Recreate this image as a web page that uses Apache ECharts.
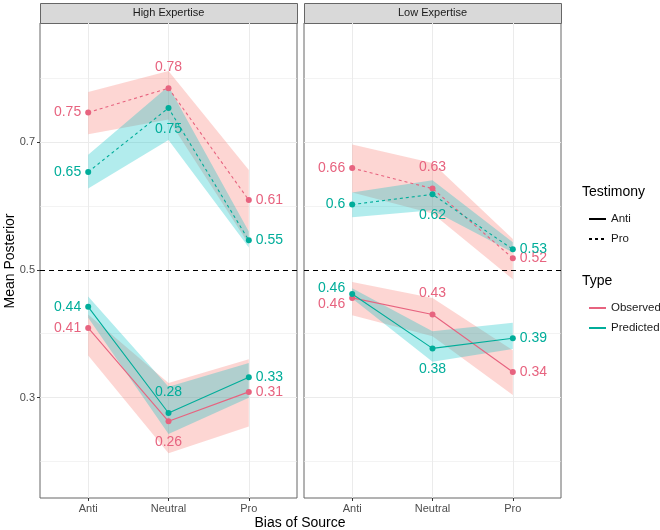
<!DOCTYPE html>
<html>
<head>
<meta charset="utf-8">
<script src="https://cdn.jsdelivr.net/npm/echarts@6/dist/echarts.min.js"></script>
<style>
  html, body { margin: 0; padding: 0; background: #fff; }
  #chart { width: 660px; height: 530px; }
</style>
</head>
<body>
<div id="chart"></div>
<script>
// categories / ticks
var biasLevels = ['Anti', 'Neutral', 'Pro'];
var panels = ['High Expertise', 'Low Expertise'];
var yMajor = [0.3, 0.5, 0.7];
var yMinor = [0.2, 0.4, 0.6, 0.8];
var refLine = 0.5;

// mean posterior, High Expertise
var highObsAnti = [0.409, 0.263, 0.309];
var highObsPro = [0.746, 0.784, 0.609];
var highPredAnti = [0.442, 0.276, 0.332];
var highPredPro = [0.653, 0.753, 0.546];
// mean posterior, Low Expertise
var lowObsAnti = [0.456, 0.430, 0.340];
var lowObsPro = [0.659, 0.627, 0.518];
var lowPredAnti = [0.462, 0.377, 0.393];
var lowPredPro = [0.602, 0.618, 0.532];

// ribbons (lower / upper)
var highObsAntiLo = [0.366, 0.213, 0.255], highObsAntiHi = [0.430, 0.323, 0.360];
var highObsProLo = [0.712, 0.735, 0.540], highObsProHi = [0.778, 0.811, 0.656];
var highPredAntiLo = [0.425, 0.243, 0.300], highPredAntiHi = [0.458, 0.317, 0.354];
var highPredProLo = [0.627, 0.703, 0.535], highPredProHi = [0.680, 0.787, 0.560];
var lowObsAntiLo = [0.429, 0.396, 0.304], lowObsAntiHi = [0.481, 0.456, 0.374];
var lowObsProLo = [0.621, 0.588, 0.485], lowObsProHi = [0.696, 0.667, 0.548];
var lowPredAntiLo = [0.455, 0.356, 0.376], lowPredAntiHi = [0.471, 0.404, 0.417];
var lowPredProLo = [0.582, 0.593, 0.527], lowPredProHi = [0.621, 0.640, 0.543];

var obsColor = '#E7637F';
var predColor = '#00AD9A';
var obsFill = '#F8766D';
var predFill = '#00BFC4';
var font = "'Liberation Sans', Arial, sans-serif";

var myChart = echarts.init(document.getElementById('chart'));

function fmt(v) {
    return String(Math.round(v * 100) / 100);
}

// ribbon drawn as one polygon through the axis scales
function ribbon(gi, lo, hi, fill) {
    var data = [];
    for (var i = 0; i < lo.length; i++) data.push([i + 1, lo[i], hi[i]]);
    return {
        type: 'custom',
        xAxisIndex: gi, yAxisIndex: gi,
        silent: true,
        z: 1,
        data: data,
        renderItem: function (params, api) {
            if (params.dataIndexInside !== 0) return null;
            var n = params.dataInsideLength;
            var pts = [];
            for (var k = 0; k < n; k++) pts.push(api.coord([api.value(0, k), api.value(2, k)]));
            for (var k2 = n - 1; k2 >= 0; k2--) pts.push(api.coord([api.value(0, k2), api.value(1, k2)]));
            return {
                type: 'polygon',
                shape: {points: pts},
                style: {fill: fill, opacity: 0.3}
            };
        }
    };
}

// mean line with text labels
function meanLine(gi, vals, color, dashed, pos, offs) {
    var data = vals.map(function (v, i) {
        var item = {value: [i + 1, v], label: {position: pos[i]}};
        if (pos[i] === 'top' || pos[i] === 'bottom') item.label.distance = 11;
        if (offs && offs[i]) item.label.offset = offs[i];
        return item;
    });
    return {
        type: 'line',
        xAxisIndex: gi, yAxisIndex: gi,
        z: 3,
        silent: true,
        symbol: 'circle',
        symbolSize: 6,
        itemStyle: {color: color},
        lineStyle: {color: color, width: 1.1, type: dashed ? [3, 3] : 'solid'},
        label: {
            show: true,
            color: color,
            fontSize: 14,
            fontFamily: font,
            distance: 4,
            formatter: function (p) { return fmt(p.value[1]); }
        },
        data: data
    };
}

// grid lines + reference line
function guides(gi) {
    var lines = [];
    yMinor.forEach(function (v) {
        lines.push({yAxis: v, lineStyle: {color: '#EBEBEB', width: 0.6, type: 'solid'}});
    });
    yMajor.forEach(function (v) {
        if (v !== refLine) lines.push({yAxis: v, lineStyle: {color: '#EBEBEB', width: 1, type: 'solid'}});
    });
    biasLevels.forEach(function (c, i) {
        lines.push({xAxis: i + 1, lineStyle: {color: '#EBEBEB', width: 1, type: 'solid'}});
    });
    return [
        {
            type: 'line', xAxisIndex: gi, yAxisIndex: gi, data: [], z: 0, silent: true,
            markLine: {z: 0, silent: true, symbol: ['none', 'none'], label: {show: false}, animation: false, data: lines}
        },
        {
            type: 'line', xAxisIndex: gi, yAxisIndex: gi, data: [], z: 2, silent: true,
            markLine: {
                z: 2, silent: true, symbol: ['none', 'none'], label: {show: false}, animation: false,
                data: [{yAxis: refLine, lineStyle: {color: '#000', width: 1.2, type: [5, 4]}}]
            }
        }
    ];
}

var gridLeft = [40, 304];
var gridW = 257;
var gridTop = 23;
var gridH = 475;

var xAxes = [], yAxes = [], grids = [];
for (var g = 0; g < 2; g++) {
    grids.push({left: gridLeft[g], top: gridTop, width: gridW, height: gridH,
        show: true, borderColor: '#666', borderWidth: 1, backgroundColor: 'transparent'});
    xAxes.push({
        type: 'value', gridIndex: g, min: 0.4, max: 3.6,
        axisLine: {show: false},
        splitLine: {show: false},
        axisTick: {show: true, length: 3, lineStyle: {color: '#333'}, customValues: [1, 2, 3]},
        axisLabel: {
            color: '#4D4D4D', fontSize: 11, fontFamily: font, margin: 5,
            customValues: [1, 2, 3],
            formatter: function (v) { return biasLevels[Math.round(v) - 1]; }
        }
    });
    yAxes.push({
        type: 'value', gridIndex: g, min: 0.143, max: 0.886,
        axisLine: {show: false},
        splitLine: {show: false},
        axisTick: {show: g === 0, length: 3, lineStyle: {color: '#333'}, customValues: yMajor},
        axisLabel: {
            show: g === 0, color: '#4D4D4D', fontSize: 11, fontFamily: font, margin: 5,
            customValues: yMajor,
            formatter: function (v) { return fmt(v); }
        }
    });
}

var series = [];
series = series.concat(guides(0), guides(1));
// ribbons
series.push(ribbon(0, highObsProLo, highObsProHi, obsFill));
series.push(ribbon(0, highPredProLo, highPredProHi, predFill));
series.push(ribbon(0, highObsAntiLo, highObsAntiHi, obsFill));
series.push(ribbon(0, highPredAntiLo, highPredAntiHi, predFill));
series.push(ribbon(1, lowObsProLo, lowObsProHi, obsFill));
series.push(ribbon(1, lowPredProLo, lowPredProHi, predFill));
series.push(ribbon(1, lowObsAntiLo, lowObsAntiHi, obsFill));
series.push(ribbon(1, lowPredAntiLo, lowPredAntiHi, predFill));
// mean lines
series.push(meanLine(0, highObsPro, obsColor, true, ['left', 'top', 'right']));
series.push(meanLine(0, highPredPro, predColor, true, ['left', 'bottom', 'right']));
series.push(meanLine(0, highObsAnti, obsColor, false, ['left', 'bottom', 'right']));
series.push(meanLine(0, highPredAnti, predColor, false, ['left', 'top', 'right']));
series.push(meanLine(1, lowObsPro, obsColor, true, ['left', 'top', 'right']));
series.push(meanLine(1, lowPredPro, predColor, true, ['left', 'bottom', 'right']));
series.push(meanLine(1, lowObsAnti, obsColor, false, ['left', 'top', 'right'], [[0, 6]]));
series.push(meanLine(1, lowPredAnti, predColor, false, ['left', 'bottom', 'right'], [[0, -6]]));
// legend-only series
series.push({name: 'Anti', type: 'line', data: [], symbol: 'none', itemStyle: {color: '#000'}, lineStyle: {color: '#000', width: 1.2}});
series.push({name: 'Pro', type: 'line', data: [], symbol: 'none', itemStyle: {color: '#000'}, lineStyle: {color: '#000', width: 1.2, type: [3, 3]}});
series.push({name: 'Observed', type: 'line', data: [], symbol: 'none', itemStyle: {color: obsColor}, lineStyle: {color: obsColor, width: 1.2}});
series.push({name: 'Predicted', type: 'line', data: [], symbol: 'none', itemStyle: {color: predColor}, lineStyle: {color: predColor, width: 1.2}});

var legendText = {color: '#1A1A1A', fontSize: 11.5, fontFamily: font};
var graphics = [];
for (var p = 0; p < 2; p++) {
    graphics.push({type: 'rect', left: gridLeft[p], top: 3,
        shape: {width: gridW, height: 20}, style: {fill: '#D9D9D9', stroke: '#666', lineWidth: 1}});
    graphics.push({type: 'text', x: gridLeft[p] + gridW / 2, y: 13,
        style: {text: panels[p], fill: '#1A1A1A', font: '11px ' + font, textAlign: 'center', textVerticalAlign: 'middle'}});
}
graphics.push({type: 'text', x: 300, y: 523,
    style: {text: 'Bias of Source', fill: '#000', font: '14px ' + font, textAlign: 'center', textVerticalAlign: 'middle'}});
graphics.push({type: 'text', x: 10, y: 261, rotation: Math.PI / 2,
    style: {text: 'Mean Posterior', fill: '#000', font: '14px ' + font, textAlign: 'center', textVerticalAlign: 'middle'}});
graphics.push({type: 'text', x: 582, y: 192,
    style: {text: 'Testimony', fill: '#000', font: '14px ' + font, textAlign: 'left', textVerticalAlign: 'middle'}});
graphics.push({type: 'text', x: 582, y: 281,
    style: {text: 'Type', fill: '#000', font: '14px ' + font, textAlign: 'left', textVerticalAlign: 'middle'}});

var legendBase = {orient: 'vertical', left: 583, itemWidth: 17, itemHeight: 14, itemGap: 8,
    selectedMode: false, textStyle: legendText, itemStyle: {opacity: 0}};
var option = {
    backgroundColor: '#fff',
    animation: false,
    grid: grids,
    xAxis: xAxes,
    yAxis: yAxes,
    legend: [
        Object.assign({data: ['Anti', 'Pro'], top: 208}, legendBase),
        Object.assign({data: ['Observed', 'Predicted'], top: 297}, legendBase)
    ],
    graphic: graphics,
    series: series
};
myChart.setOption(option);
</script>
</body>
</html>
